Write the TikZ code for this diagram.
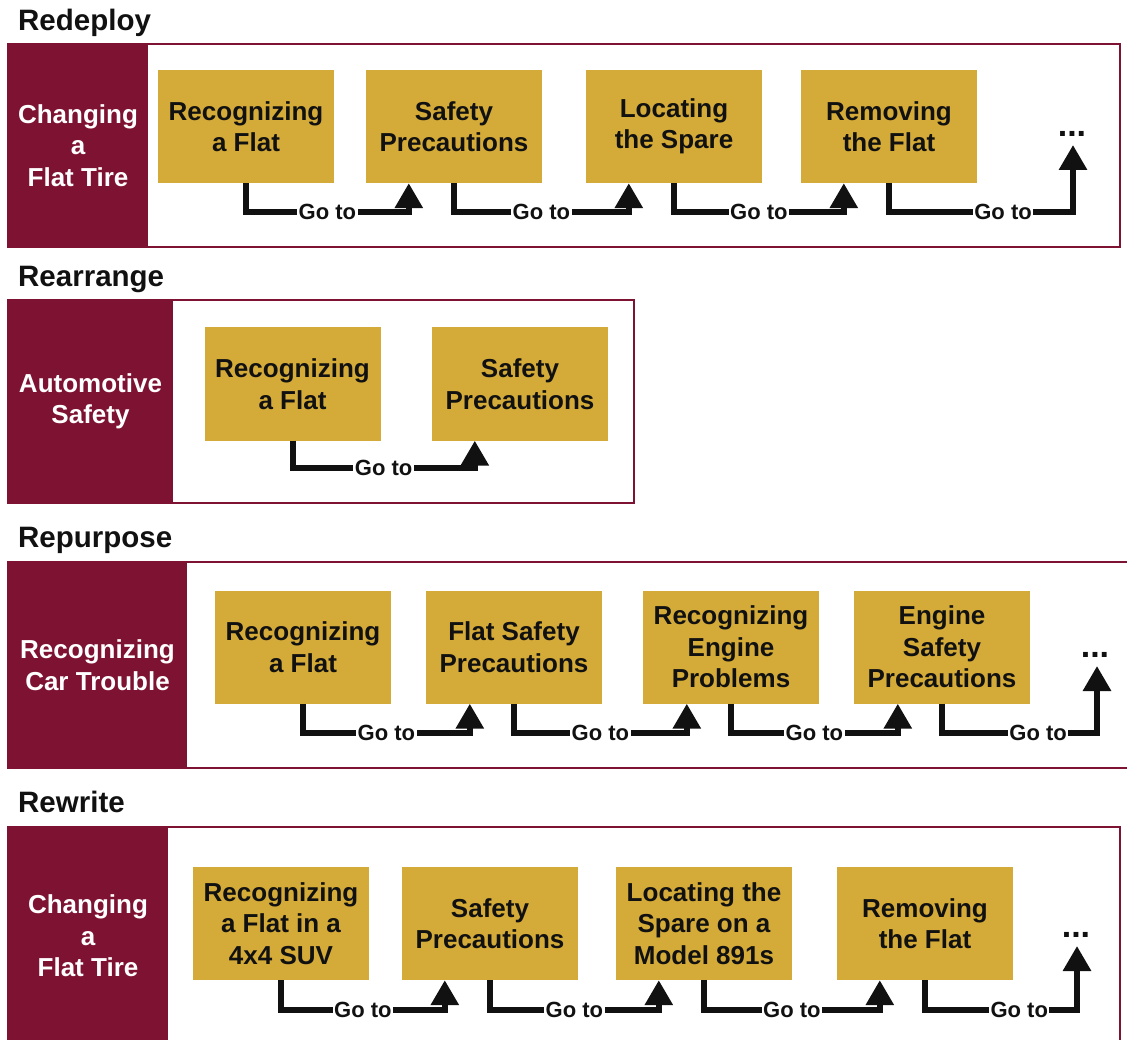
\documentclass[tikz,border=0pt]{standalone}
\usepackage{fontspec}
\setmainfont{Liberation Sans}
\usetikzlibrary{arrows.meta}
\definecolor{maroon}{HTML}{7E1232}
\definecolor{gold}{HTML}{D4AA38}
\definecolor{ink}{HTML}{111111}

\tikzset{
  panel/.style={draw=maroon, line width=2pt, fill=white, inner sep=0},
  side/.style={fill=maroon, text=white, align=center, inner sep=0,
    font=\bfseries\fontsize{26}{31.5}\selectfont},
  stepbox/.style={fill=gold, text=ink, align=center, inner sep=0,
    minimum width=176pt, minimum height=113pt,
    font=\bfseries\fontsize{26}{31.5}\selectfont},
  title/.style={anchor=base west, text=ink, inner sep=0,
    font=\bfseries\fontsize{29.5}{34}\selectfont},
  conn/.style={draw=ink, line width=6pt, line join=miter,
    -{Triangle[width=27pt,length=25pt]}},
  goto/.style={fill=white, text=ink, inner xsep=1.5pt, inner ysep=1pt,
    font=\bfseries\fontsize{22}{24}\selectfont},
  more/.style={text=ink, inner sep=0, font=\bfseries\fontsize{34}{34}\selectfont}
}

\begin{document}
\begin{tikzpicture}[x=1pt, y=-1pt]
\useasboundingbox (0,0) rectangle (1127,1040);
\clip (0,0) rectangle (1127,1040);
\fill[white] (0,0) rectangle (1127,1040);

% ---------------- Redeploy ----------------
\node[title] (t1) at (18,31) {Redeploy};
\node[panel, minimum width=1112pt, minimum height=203pt] (f1) at (564,145.5) {};
\node[side, minimum width=140pt, minimum height=203pt] (s1) at (78,145.5) {Changing\\a\\Flat Tire};
\node[stepbox] (a1) at (246,126.5) {Recognizing\\a Flat};
\node[stepbox] (a2) at (454,126.5) {Safety\\Precautions};
\node[stepbox] (a3) at (674,126.5) {Locating\\the Spare};
\node[stepbox] (a4) at (889,126.5) {Removing\\the Flat};
\node[more] (am) at (1072,134) {...};
\coordinate (ae) at (1073,145);
\draw[conn] (a1.south) -- ++(0,29) -| node[goto,pos=0.25]{Go to} ([xshift=43pt]a2.south west);
\draw[conn] (a2.south) -- ++(0,29) -| node[goto,pos=0.25]{Go to} ([xshift=43pt]a3.south west);
\draw[conn] (a3.south) -- ++(0,29) -| node[goto,pos=0.25]{Go to} ([xshift=43pt]a4.south west);
\draw[conn] (a4.south) -- ++(0,29) -| node[goto,pos=0.31]{Go to} (ae);

% ---------------- Rearrange ----------------
\node[title] (t2) at (18,287) {Rearrange};
\node[panel, minimum width=626pt, minimum height=203pt] (f2) at (321,401.5) {};
\node[side, minimum width=165pt, minimum height=203pt] (s2) at (90.5,401.5) {Automotive\\Safety};
\node[stepbox] (b1) at (292.5,384) {Recognizing\\a Flat};
\node[stepbox] (b2) at (520,384) {Safety\\Precautions};
\draw[conn] (b1.south) -- ++(0,27) -| node[goto,pos=0.25]{Go to} ([xshift=43pt]b2.south west);

% ---------------- Repurpose ----------------
\node[title] (t3) at (18,547) {Repurpose};
\node[panel, minimum width=1127pt, minimum height=206pt] (f3) at (571.5,665) {};
\node[side, minimum width=179pt, minimum height=206pt] (s3) at (97.5,665) {Recognizing\\Car Trouble};
\node[stepbox] (c1) at (303,647) {Recognizing\\a Flat};
\node[stepbox] (c2) at (514,647) {Flat Safety\\Precautions};
\node[stepbox] (c3) at (731,647) {Recognizing\\Engine\\Problems};
\node[stepbox] (c4) at (942,647) {Engine\\Safety\\Precautions};
\node[more] (cm) at (1095,655) {...};
\coordinate (ce) at (1097,666);
\draw[conn] (c1.south) -- ++(0,29) -| node[goto,pos=0.25]{Go to} ([xshift=44pt]c2.south west);
\draw[conn] (c2.south) -- ++(0,29) -| node[goto,pos=0.25]{Go to} ([xshift=44pt]c3.south west);
\draw[conn] (c3.south) -- ++(0,29) -| node[goto,pos=0.25]{Go to} ([xshift=44pt]c4.south west);
\draw[conn] (c4.south) -- ++(0,29) -| node[goto,pos=0.31]{Go to} (ce);

% ---------------- Rewrite ----------------
\node[title] (t4) at (18,812) {Rewrite};
\node[panel, minimum width=1112pt, minimum height=218pt] (f4) at (564,936) {};
\node[side, minimum width=160pt, minimum height=218pt] (s4) at (88,936) {Changing\\a\\Flat Tire};
\node[stepbox] (d1) at (281,923.5) {Recognizing\\a Flat in a\\4x4 SUV};
\node[stepbox] (d2) at (490,923.5) {Safety\\Precautions};
\node[stepbox] (d3) at (704,923.5) {Locating the\\Spare on a\\Model 891s};
\node[stepbox] (d4) at (925,923.5) {Removing\\the Flat};
\node[more] (dm) at (1076,935) {...};
\coordinate (de) at (1077,946);
\draw[conn] (d1.south) -- ++(0,30) -| node[goto,pos=0.25]{Go to} ([xshift=43pt]d2.south west);
\draw[conn] (d2.south) -- ++(0,30) -| node[goto,pos=0.25]{Go to} ([xshift=43pt]d3.south west);
\draw[conn] (d3.south) -- ++(0,30) -| node[goto,pos=0.25]{Go to} ([xshift=43pt]d4.south west);
\draw[conn] (d4.south) -- ++(0,30) -| node[goto,pos=0.31]{Go to} (de);
\end{tikzpicture}
\end{document}
